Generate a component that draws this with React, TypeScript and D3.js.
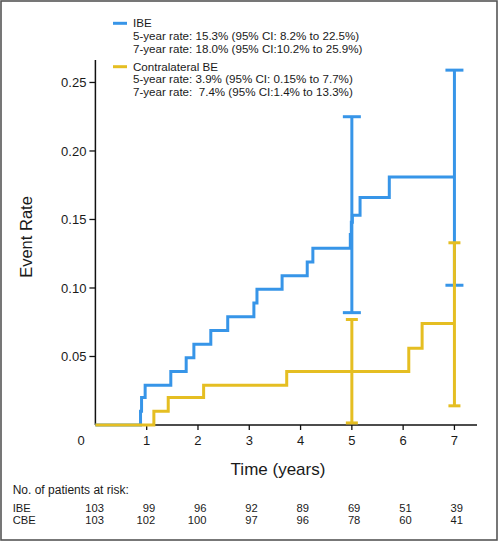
import React from "react";
import * as d3 from "d3";

const ibeTimes = [0, 0.88, 0.9, 0.97, 1.47, 1.77, 1.92, 2.25, 2.58, 3.09, 3.15, 3.64, 4.13, 4.24, 4.97, 4.99, 5.01, 5.16, 5.73, 7.0];
const ibeRates = [0, 0.01, 0.02, 0.029, 0.039, 0.049, 0.059, 0.069, 0.079, 0.089, 0.099, 0.109, 0.119, 0.129, 0.139, 0.148, 0.153, 0.166, 0.181, 0.181];

const cbeTimes = [0, 1.14, 1.42, 2.11, 3.73, 6.11, 6.37, 7.0];
const cbeRates = [0, 0.01, 0.02, 0.029, 0.039, 0.056, 0.074, 0.074];

const ibeCI = [
  { t: 5, lo: 0.082, hi: 0.225 },
  { t: 7, lo: 0.102, hi: 0.259 },
];
const cbeCI = [
  { t: 5, lo: 0.0015, hi: 0.077 },
  { t: 7, lo: 0.014, hi: 0.133 },
];

const yTicks = [0.05, 0.1, 0.15, 0.2, 0.25];
const xTicks = [1, 2, 3, 4, 5, 6, 7];
const riskTimes = [0, 1, 2, 3, 4, 5, 6, 7];
const riskIBE = [103, 99, 96, 92, 89, 69, 51, 39];
const riskCBE = [103, 102, 100, 97, 96, 78, 60, 41];

const legendIBE = [
  "IBE",
  "5-year rate: 15.3% (95% CI: 8.2% to 22.5%)",
  "7-year rate: 18.0% (95% CI:10.2% to 25.9%)",
];
const legendCBE = [
  "Contralateral BE",
  "5-year rate: 3.9% (95% CI: 0.15% to 7.7%)",
  "7-year rate:  7.4% (95% CI:1.4% to 13.3%)",
];

const BLUE = "#3795e8";
const YELLOW = "#e5be22";
const INK = "#1a1a1a";
const FONT = "'Liberation Sans', Arial, Helvetica, sans-serif";

export default function App() {
  const W = 500;
  const H = 542;
  const x = d3.scaleLinear().domain([0, 7.44]).range([95.4, 477]);
  const y = d3.scaleLinear().domain([0, 0.2664]).range([425, 60]);

  const line = d3
    .line<[number, number]>()
    .x((d) => x(d[0]))
    .y((d) => y(d[1]))
    .curve(d3.curveStepAfter);

  const ibePts = ibeTimes.map((t, i) => [t, ibeRates[i]] as [number, number]);
  const cbePts = cbeTimes.map((t, i) => [t, cbeRates[i]] as [number, number]);

  const errBars = (ci: { t: number; lo: number; hi: number }[], color: string, cap: number) =>
    ci.map((c, i) => (
      <g key={i} stroke={color} strokeWidth={3}>
        <line x1={x(c.t)} x2={x(c.t)} y1={y(c.lo)} y2={y(c.hi)} />
        <line x1={x(c.t) - cap / 2} x2={x(c.t) + cap / 2} y1={y(c.lo)} y2={y(c.lo)} />
        <line x1={x(c.t) - cap / 2} x2={x(c.t) + cap / 2} y1={y(c.hi)} y2={y(c.hi)} />
      </g>
    ));

  return (
    <svg
      width={W}
      height={H}
      style={{ position: "absolute", left: 0, top: 0, background: "#fff" }}
      fontFamily={FONT}
    >
      <rect x={1} y={1} width={496} height={539} fill="#fff" stroke="#555" strokeWidth={1.6} />

      {/* Legend */}
      <line x1={113} x2={127} y1={23.3} y2={23.3} stroke={BLUE} strokeWidth={3} />
      {legendIBE.map((s, i) => (
        <text key={"a" + i} x={133} y={23.3 + i * 12.6} dy="0.35em" fontSize={11.6} fill={INK} style={{ whiteSpace: "pre" }}>
          {s}
        </text>
      ))}
      <line x1={113} x2={127} y1={66.7} y2={66.7} stroke={YELLOW} strokeWidth={3} />
      {legendCBE.map((s, i) => (
        <text key={"b" + i} x={133} y={66.7 + i * 12.4} dy="0.35em" fontSize={11.6} fill={INK} style={{ whiteSpace: "pre" }}>
          {s}
        </text>
      ))}

      {/* Axes */}
      <line x1={x(0)} x2={x(0)} y1={60} y2={425} stroke="#111" strokeWidth={1.5} />
      <line x1={x(0)} x2={477} y1={425} y2={425} stroke="#111" strokeWidth={1.5} />
      {yTicks.map((v) => (
        <g key={v}>
          <line x1={x(0) - 6} x2={x(0)} y1={y(v)} y2={y(v)} stroke="#111" strokeWidth={1.3} />
          <text x={x(0) - 9} y={y(v)} dy="0.35em" textAnchor="end" fontSize={13} fill={INK}>
            {d3.format(".2f")(v)}
          </text>
        </g>
      ))}
      {xTicks.map((v) => (
        <g key={v}>
          <line x1={x(v)} x2={x(v)} y1={425} y2={430} stroke="#111" strokeWidth={1.3} />
          <text x={x(v)} y={440} dy="0.35em" textAnchor="middle" fontSize={13} fill={INK}>
            {v}
          </text>
        </g>
      ))}
      <text x={81} y={440} dy="0.35em" textAnchor="middle" fontSize={13} fill={INK}>
        0
      </text>

      <text
        transform={`translate(26.7,237) rotate(-90)`}
        textAnchor="middle"
        dy="0.35em"
        fontSize={16.5}
        fill={INK}
      >
        Event Rate
      </text>
      <text x={278} y={469} dy="0.35em" textAnchor="middle" fontSize={17} fill={INK}>
        Time (years)
      </text>

      {/* Curves */}
      <path d={line(ibePts) || ""} fill="none" stroke={BLUE} strokeWidth={3} />
      {errBars(ibeCI, BLUE, 18)}
      <path d={line(cbePts) || ""} fill="none" stroke={YELLOW} strokeWidth={3} />
      {errBars(cbeCI, YELLOW, 12)}

      {/* Risk table */}
      <text x={12.7} y={489.3} dy="0.35em" fontSize={12} fill={INK}>
        No. of patients at risk:
      </text>
      <text x={12.7} y={507.8} dy="0.35em" fontSize={11.2} fill={INK}>IBE</text>
      <text x={12.7} y={520.3} dy="0.35em" fontSize={11.2} fill={INK}>CBE</text>
      {riskTimes.map((t, i) => (
        <g key={t}>
          <text x={x(t) + 8.5} y={507.8} dy="0.35em" textAnchor="end" fontSize={11.2} fill={INK}>
            {riskIBE[i]}
          </text>
          <text x={x(t) + 8.5} y={520.3} dy="0.35em" textAnchor="end" fontSize={11.2} fill={INK}>
            {riskCBE[i]}
          </text>
        </g>
      ))}
    </svg>
  );
}
